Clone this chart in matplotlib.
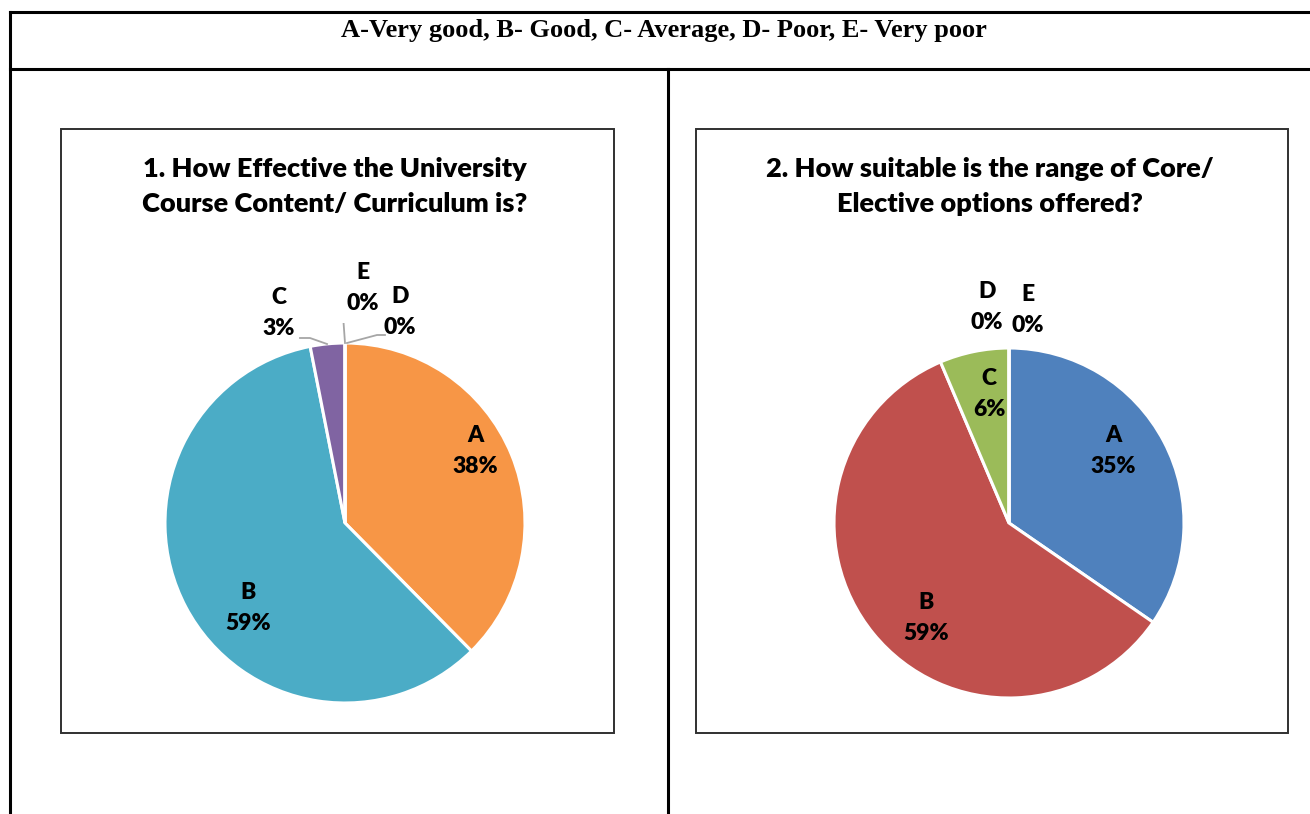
import matplotlib
matplotlib.use("Agg")
import matplotlib.pyplot as plt
from matplotlib.lines import Line2D
from matplotlib.patches import Rectangle
import numpy as np

# ---------------- data ----------------
legend_text = "A-Very good, B- Good, C- Average, D- Poor, E- Very poor"
categories = ["A", "B", "C", "D", "E"]
title1 = "1. How Effective the University\nCourse Content/ Curriculum is?"
values1 = [37.6, 59.3, 3.1, 0.0, 0.0]
title2 = "2. How suitable is the range of Core/\nElective options offered?"
values2 = [34.6, 59.0, 6.4, 0.0, 0.0]

colors1 = ["#F79646", "#4BACC6", "#8064A2", "#9BBB59", "#4F81BD"]
colors2 = ["#4F81BD", "#C0504D", "#9BBB59", "#8064A2", "#4BACC6"]

W, H = 1310, 814
DPI = 100
fig = plt.figure(figsize=(W / DPI, H / DPI), dpi=DPI)
fig.patch.set_facecolor("white")


def fx(x):
    return x / W


def fy(y):
    return 1 - y / H


# ---------------- table frame ----------------
lw_tab = 2.2
for (x0, y0, x1, y1) in [(10, 12, W + 5, 12), (10, 69, W + 5, 69),
                         (10, 12, 10, H + 5), (668, 69, 668, H + 5)]:
    fig.add_artist(Line2D([fx(x0), fx(x1)], [fy(y0), fy(y1)], color="black",
                          lw=lw_tab, transform=fig.transFigure))

fig.text(fx(664), fy(31), legend_text, ha="center", va="center",
         fontsize=19, fontweight="bold", family="Liberation Serif")

# ---------------- chart boxes ----------------
for (x0, x1) in [(61, 614), (696, 1288)]:
    fig.add_artist(Rectangle((fx(x0), fy(733)), fx(x1) - fx(x0), fy(129) - fy(733),
                             transform=fig.transFigure, fill=False,
                             edgecolor="#303030", lw=1.4))

FONT = "Lato"
WEIGHT = "heavy"


def draw_pie(cx, cy, radius_px, values, colors, title, title_cx, label_spec):
    half = 200
    ax = fig.add_axes([fx(cx - half), fy(cy + half), 2 * half / W, 2 * half / H])
    wedges, _ = ax.pie(values, colors=colors, startangle=90, counterclock=False,
                       wedgeprops=dict(edgecolor="white", linewidth=2.2),
                       radius=1.0)
    lim = half / radius_px
    ax.set_xlim(-lim, lim)
    ax.set_ylim(-lim, lim)
    ax.set_aspect("equal")
    ax.axis("off")
    for w, cat, v, spec in zip(wedges, categories, values, label_spec):
        txt = f"{cat}\n{v:.0f}%"
        tx, ty, leader = spec
        ax.text(tx, ty, txt, ha="center", va="center", fontsize=16.5,
                fontweight=WEIGHT, family=FONT, linespacing=1.55)
        if leader is not None:
            ax.plot(leader[0], leader[1], color="#A6A6A6", lw=1.3)
    fig.text(fx(title_cx), fy(186.5), title, ha="center", va="center",
             fontsize=19.5, fontweight=WEIGHT, family=FONT, linespacing=1.55)
    return ax


def P(px, py, cx, cy, r):
    return ((px - cx) / r, (cy - py) / r)


c1 = (345, 523, 180)
def p1(x, y):
    return P(x, y, *c1)

spec1 = [
    (*p1(475, 451), None),
    (*p1(248, 608), None),
    (*p1(279, 313), (
        [p1(300, 338)[0], p1(310, 338)[0], p1(327, 344)[0]],
        [p1(300, 338)[1], p1(310, 338)[1], p1(327, 344)[1]])),
    (*p1(400, 312), (
        [p1(385, 335)[0], p1(377, 335)[0], p1(347, 343)[0]],
        [p1(385, 335)[1], p1(377, 335)[1], p1(347, 343)[1]])),
    (*p1(363, 288), (
        [p1(343, 315)[0], p1(345, 343)[0]],
        [p1(343, 315)[1], p1(345, 343)[1]])),
]
draw_pie(345, 523, 180, values1, colors1, title1, 335, spec1)

c2 = (1009, 523, 175)
def p2(x, y):
    return P(x, y, *c2)

spec2 = [
    (*p2(1113, 451), None),
    (*p2(926, 618), None),
    (*p2(989, 394), None),
    (*p2(987, 307), None),
    (*p2(1028, 310), None),
]
draw_pie(1009, 523, 175, values2, colors2, title2, 990, spec2)

fig.savefig("out.png", dpi=DPI, facecolor="white")
